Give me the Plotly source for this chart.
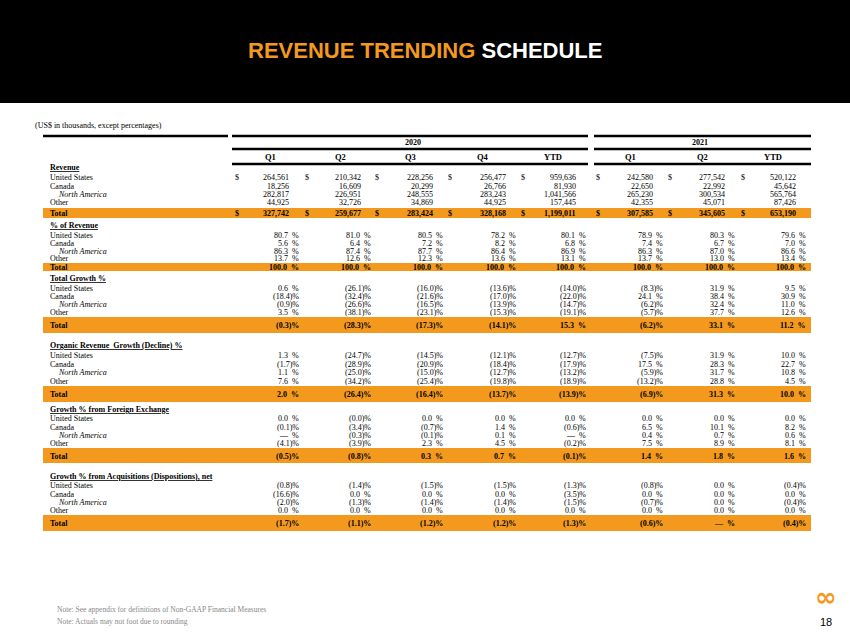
import plotly.graph_objects as go

periods = ["Q1", "Q2", "Q3", "Q4", "YTD", "Q1", "Q2", "YTD"]
years = ["2020", "2021"]
regions = ["United States", "Canada", "North America", "Other", "Total"]

rev_us = [264561, 210342, 228256, 256477, 959636, 242580, 277542, 520122]
rev_ca = [18256, 16609, 20299, 26766, 81930, 22650, 22992, 45642]
rev_na = [282817, 226951, 248555, 283243, 1041566, 265230, 300534, 565764]
rev_ot = [44925, 32726, 34869, 44925, 157445, 42355, 45071, 87426]
rev_tot = [327742, 259677, 283424, 328168, 1199011, 307585, 345605, 653190]

pct_us = [80.7, 81.0, 80.5, 78.2, 80.1, 78.9, 80.3, 79.6]
pct_ca = [5.6, 6.4, 7.2, 8.2, 6.8, 7.4, 6.7, 7.0]
pct_na = [86.3, 87.4, 87.7, 86.4, 86.9, 86.3, 87.0, 86.6]
pct_ot = [13.7, 12.6, 12.3, 13.6, 13.1, 13.7, 13.0, 13.4]
pct_tot = [100.0] * 8

tg_us = [0.6, -26.1, -16.0, -13.6, -14.0, -8.3, 31.9, 9.5]
tg_ca = [-18.4, -32.4, -21.6, -17.0, -22.0, 24.1, 38.4, 30.9]
tg_na = [-0.9, -26.6, -16.5, -13.9, -14.7, -6.2, 32.4, 11.0]
tg_ot = [3.5, -38.1, -23.1, -15.3, -19.1, -5.7, 37.7, 12.6]
tg_tot = [-0.3, -28.3, -17.3, -14.1, 15.3, -6.2, 33.1, 11.2]

org_us = [1.3, -24.7, -14.5, -12.1, -12.7, -7.5, 31.9, 10.0]
org_ca = [-1.7, -28.9, -20.9, -18.4, -17.9, 17.5, 28.3, 22.7]
org_na = [1.1, -25.0, -15.0, -12.7, -13.2, -5.9, 31.7, 10.8]
org_ot = [7.6, -34.2, -25.4, -19.8, -18.9, -13.2, 28.8, 4.5]
org_tot = [2.0, -26.4, -16.4, -13.7, -13.9, -6.9, 31.3, 10.0]

fx_us = [0.0, -0.0, 0.0, 0.0, 0.0, 0.0, 0.0, 0.0]
fx_ca = [-0.1, -3.4, -0.7, 1.4, -0.6, 6.5, 10.1, 8.2]
fx_na = [None, -0.3, -0.1, 0.1, None, 0.4, 0.7, 0.6]
fx_ot = [-4.1, -3.9, 2.3, 4.5, -0.2, 7.5, 8.9, 8.1]
fx_tot = [-0.5, -0.8, 0.3, 0.7, -0.1, 1.4, 1.8, 1.6]

acq_us = [-0.8, -1.4, -1.5, -1.5, -1.3, -0.8, 0.0, -0.4]
acq_ca = [-16.6, 0.0, 0.0, 0.0, -3.5, 0.0, 0.0, 0.0]
acq_na = [-2.0, -1.3, -1.4, -1.4, -1.5, -0.7, 0.0, -0.4]
acq_ot = [0.0] * 8
acq_tot = [-1.7, -1.1, -1.2, -1.2, -1.3, -0.6, None, -0.4]

ORANGE = "#F39A1E"
FONT = "Liberation Serif"
FS = 8
num_x = [291, 363, 435, 508, 578, 655, 727, 798]
dol_x = [237, 307, 377, 450, 523, 598, 670, 743]
head_x = [270, 340, 410, 483, 553, 630, 702, 773]

ann = []
shapes = []

def txt(x, y, s, size=FS, anchor="left", color="black", bold=False, italic=False, fam=FONT):
    if bold:
        s = "<b>" + s + "</b>"
    if italic:
        s = "<i>" + s + "</i>"
    ann.append(dict(x=x, y=y, text=s, showarrow=False, xref="x", yref="y",
                    xanchor=anchor, yanchor="middle",
                    font=dict(family=fam, size=size, color=color)))

def line(x0, x1, y, w=1, color="black"):
    shapes.append(dict(type="line", x0=x0, x1=x1, y0=y, y1=y, xref="x", yref="y",
                       line=dict(color=color, width=w)))

def band(y0, y1):
    shapes.append(dict(type="rect", x0=43, x1=811, y0=y0, y1=y1, xref="x", yref="y",
                       fillcolor=ORANGE, line=dict(width=0), layer="below"))

def fpct(v):
    if v is None:
        return "—  %"
    neg = v < 0 or (v == 0 and str(v).startswith("-"))
    return f"({abs(v):.1f})%" if neg else f"{v:.1f}  %"

shapes.append(dict(type="rect", x0=0, x1=850, y0=0, y1=103, xref="x", yref="y",
                   fillcolor="black", line=dict(width=0)))
ann.append(dict(x=425, y=50, xref="x", yref="y", showarrow=False, xanchor="center",
                text="<b><span style='color:%s'>REVENUE TRENDING</span> SCHEDULE</b>" % ORANGE,
                font=dict(family="Liberation Sans", size=22, color="white")))

txt(33, 125, "(US$ in thousands, except percentages)", size=8)
line(43, 228, 136, 2.5)
line(232, 588, 136, 2.5)
line(594, 811, 136, 2.5)
txt(413, 142, years[0], anchor="center", bold=True)
txt(700, 142, years[1], anchor="center", bold=True)
line(232, 588, 149, 2.5)
line(594, 811, 149, 2.5)
for i, p in enumerate(periods):
    txt(head_x[i], 157, p, size=8.5, anchor="center", bold=True)
line(232, 588, 164, 2.5)
line(594, 811, 164, 2.5)

def section(title, ytitle, ys, data, kind, yband):
    txt(48, ytitle, "<u>" + title + "</u>", bold=True)
    band(*yband)
    for r, (reg, y, vals) in enumerate(zip(regions, ys, data)):
        tot = reg == "Total"
        if reg == "North America":
            txt(56, y, reg, italic=True)
        else:
            txt(48, y, reg, bold=tot)
        for i, v in enumerate(vals):
            if kind == "rev":
                txt(num_x[i], y, f"{v:,}", anchor="right", bold=tot)
                if r in (0, 4):
                    txt(dol_x[i], y, "$", anchor="center", bold=tot)
            else:
                txt(num_x[i] + 10, y, fpct(v), anchor="right", bold=tot)

section("Revenue", 167, [177, 186, 194, 202, 213],
        [rev_us, rev_ca, rev_na, rev_ot, rev_tot], "rev", (208, 218))
section("% of Revenue", 225, [235, 243, 251, 258, 267],
        [pct_us, pct_ca, pct_na, pct_ot, pct_tot], "pct", (263, 271))
section("Total Growth %", 278, [288, 296, 304, 312, 325],
        [tg_us, tg_ca, tg_na, tg_ot, tg_tot], "pct", (317, 333))
section("Organic Revenue  Growth (Decline) %", 345, [355, 364, 372, 381, 394],
        [org_us, org_ca, org_na, org_ot, org_tot], "pct", (386, 402))
section("Growth % from Foreign Exchange", 409, [418, 427, 435, 443, 456],
        [fx_us, fx_ca, fx_na, fx_ot, fx_tot], "pct", (448, 463))
section("Growth % from Acquisitions (Dispositions), net", 476, [485, 494, 502, 510, 523],
        [acq_us, acq_ca, acq_na, acq_ot, acq_tot], "pct", (515, 531))

txt(55, 609, "Note: See appendix for definitions of Non-GAAP Financial Measures", size=7.5, color="#888888")
txt(55, 621, "Note: Actuals may not foot due to rounding", size=7.5, color="#888888")
txt(826, 597, "<b>∞</b>", size=26, anchor="center", color=ORANGE, fam="DejaVu Sans")
txt(826, 622, "18", size=11, anchor="center", fam="Liberation Sans")

fig = go.Figure()
fig.update_layout(width=850, height=638, margin=dict(l=0, r=0, t=0, b=0),
                  plot_bgcolor="white", paper_bgcolor="white",
                  xaxis=dict(range=[0, 850], visible=False, fixedrange=True),
                  yaxis=dict(range=[638, 0], visible=False, fixedrange=True),
                  annotations=ann, shapes=shapes, showlegend=False)
fig.write_html("out.html", config={"displayModeBar": False},
               post_script="document.body.style.margin='0';")
